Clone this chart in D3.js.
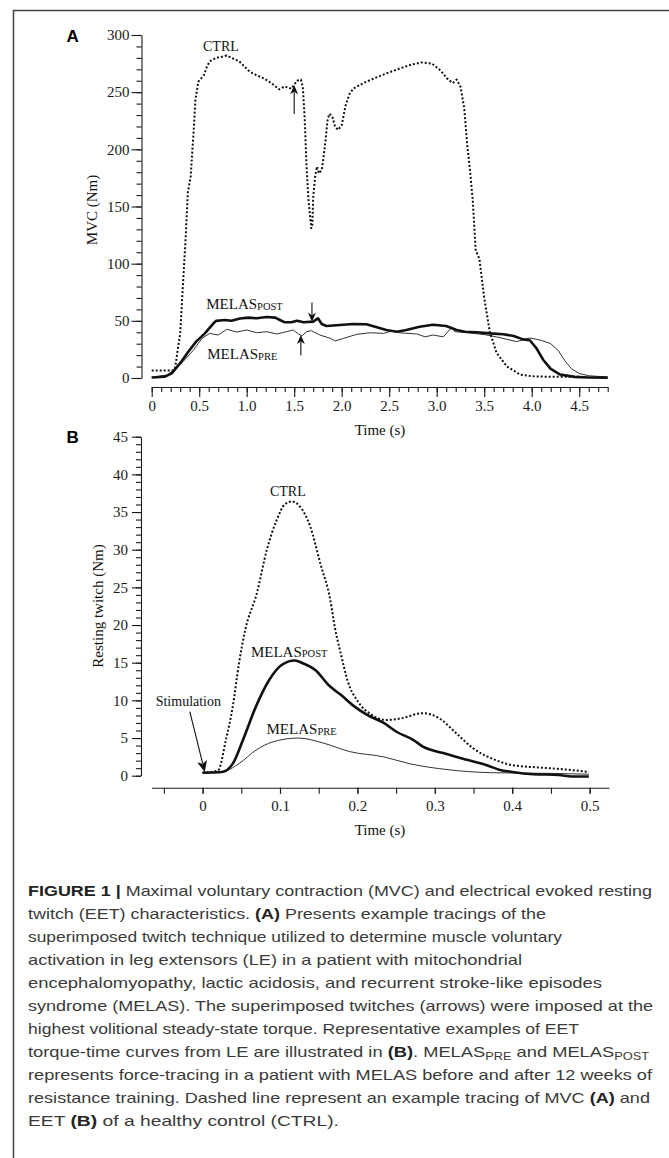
<!DOCTYPE html>
<html>
<head>
<meta charset="utf-8">
<script src="https://cdn.jsdelivr.net/npm/d3@7"></script>
<style>
  body { margin: 0; background: #fff }
  svg { display: block }
  .axis text { font-family: 'Liberation Serif', serif; font-size: 15px; fill: #1a1a1a }
  .axis path, .axis line { stroke: #1a1a1a; stroke-width: 1.1 }
  .lbl { font-family: 'Liberation Serif', serif; fill: #111 }
  .cap { font-family: 'Liberation Sans', sans-serif; font-size: 15px; fill: #3a3a3a }
</style>
</head>
<body>
<script>
// Panel A: MVC torque traces, [time (s), torque (Nm)]
var ctrlMvc = [[0, 6.5], [0.22, 6.5], [0.245, 8], [0.28, 28], [0.30, 39], [0.33, 83], [0.36, 127],
  [0.38, 162], [0.41, 176], [0.44, 214], [0.46, 243], [0.49, 259], [0.52, 262], [0.55, 265],
  [0.58, 272], [0.61, 277], [0.68, 280], [0.74, 281], [0.79, 282], [0.84, 280], [0.92, 277],
  [1.03, 268], [1.10, 265], [1.18, 262], [1.26, 258], [1.34, 252.5], [1.40, 255], [1.47, 253],
  [1.53, 260], [1.57, 261], [1.59, 255], [1.61, 228], [1.63, 185], [1.65, 156], [1.68, 131],
  [1.69, 132], [1.70, 158], [1.72, 176], [1.74, 185], [1.76, 179], [1.79, 182], [1.81, 194],
  [1.83, 208], [1.85, 225], [1.87, 231], [1.90, 229], [1.93, 220], [1.96, 217], [2.0, 221],
  [2.04, 238], [2.08, 248], [2.12, 253], [2.23, 258], [2.34, 262], [2.49, 267], [2.62, 271],
  [2.73, 274], [2.84, 276], [2.95, 275], [3.04, 269], [3.12, 261], [3.17, 258], [3.21, 261],
  [3.25, 255], [3.29, 236], [3.32, 205], [3.35, 182], [3.38, 155], [3.41, 112], [3.45, 104],
  [3.50, 70], [3.56, 40], [3.63, 22], [3.74, 10], [3.88, 3], [4.0, 1.5], [4.2, 1], [4.5, 1]]
var melasPostMvc = [[0, 0.5], [0.14, 1.2], [0.21, 4], [0.30, 13], [0.385, 23], [0.47, 32], [0.56, 39],
  [0.65, 47.8], [0.68, 50], [0.77, 50.7], [0.84, 50], [0.93, 52], [1.02, 52.8], [1.105, 52.2],
  [1.21, 53.3], [1.30, 52.8], [1.35, 50.7], [1.40, 48.7], [1.47, 48.7], [1.53, 50], [1.60, 48.7],
  [1.70, 49.3], [1.75, 52.2], [1.79, 47.2], [1.84, 45.5], [1.98, 46.4], [2.12, 47.2], [2.26, 47],
  [2.37, 44.3], [2.47, 42], [2.58, 40.5], [2.68, 42], [2.82, 44.9], [2.96, 46.6], [3.10, 45.5],
  [3.21, 42], [3.30, 40.5], [3.42, 40], [3.56, 39], [3.70, 38.3], [3.81, 36.7], [3.91, 33.8],
  [3.98, 33], [4.05, 26], [4.12, 16], [4.2, 8], [4.3, 3], [4.45, 1], [4.6, 0.5], [4.8, 0.3]]
var melasPreMvc = [[0, 0.5], [0.16, 2.6], [0.245, 7.6], [0.33, 14.3], [0.44, 24.5], [0.53, 34.7],
  [0.61, 39], [0.70, 37.6], [0.79, 42.6], [0.895, 40.2], [1.0, 42], [1.105, 39.6], [1.21, 40.5],
  [1.315, 38.5], [1.42, 40.5], [1.49, 42], [1.545, 38.5], [1.58, 36.7], [1.63, 40.5], [1.68, 41.4],
  [1.77, 37.6], [1.88, 34.7], [1.93, 32.4], [2.02, 34.7], [2.16, 38.2], [2.30, 39.6], [2.44, 39],
  [2.54, 41.4], [2.61, 39.5], [2.79, 38.5], [2.88, 36], [2.96, 37.6], [3.07, 36], [3.16, 44.3],
  [3.19, 40.5], [3.32, 39.6], [3.50, 38], [3.63, 36], [3.74, 33.8], [3.84, 31.8], [3.93, 33.8],
  [3.98, 35], [4.1, 33], [4.2, 30], [4.28, 24], [4.35, 15], [4.42, 8], [4.5, 4], [4.6, 2], [4.8, 0.8]]

// Panel B: resting twitch traces, [time (s), torque (Nm)]
var ctrlTwitch = [[0, 0.4], [0.02, 0.7], [0.030, 4.7], [0.039, 9.2], [0.047, 14.9], [0.055, 19.3],
  [0.070, 24.2], [0.083, 30], [0.096, 34], [0.106, 36], [0.115, 36.4], [0.126, 35.7], [0.139, 33.1],
  [0.152, 28.2], [0.165, 23.3], [0.171, 19.6], [0.179, 16.0], [0.187, 12.7], [0.201, 9.8],
  [0.218, 8.1], [0.237, 7.4], [0.256, 7.6], [0.284, 8.3], [0.306, 7.6], [0.328, 5.6], [0.35, 3.6],
  [0.378, 2.1], [0.40, 1.4], [0.433, 1.1], [0.466, 0.85], [0.499, 0.5]]
var melasPostTwitch = [[0, 0.4], [0.025, 0.5], [0.039, 1.6], [0.052, 4.7], [0.069, 9.2], [0.086, 12.7],
  [0.102, 14.7], [0.119, 15.3], [0.13, 14.9], [0.146, 14.0], [0.163, 12.0], [0.179, 10.7],
  [0.196, 9.2], [0.212, 8.1], [0.234, 7.0], [0.251, 5.8], [0.273, 4.7], [0.284, 3.9], [0.311, 3.0],
  [0.334, 2.3], [0.367, 1.4], [0.383, 0.8], [0.40, 0.5], [0.427, 0.2], [0.46, 0.1], [0.477, -0.1],
  [0.499, -0.1]]
var melasPreTwitch = [[0, 0.4], [0.025, 0.5], [0.047, 1.6], [0.069, 3.4], [0.091, 4.5], [0.124, 5.0],
  [0.157, 4.3], [0.19, 3.2], [0.234, 2.5], [0.267, 1.6], [0.317, 0.8], [0.372, 0.4], [0.455, 0.3],
  [0.499, 0.2]]

// tick labels
var mvcTicks = [0, 50, 100, 150, 200, 250, 300]
  , timeTicksA = [0, 0.5, 1.0, 1.5, 2.0, 2.5, 3.0, 3.5, 4.0, 4.5]
  , twitchTicks = [0, 5, 10, 15, 20, 25, 30, 35, 40, 45]
  , timeTicksB = [0, 0.1, 0.2, 0.3, 0.4, 0.5]

// superimposed twitch arrows (time, tail, tip) and text labels, in data units
var arrowsA = [[1.5, 231, 256], [1.687, 66, 49.2], [1.57, 20, 37.6]]
  , arrowsB = [[-0.0165, 8.5, 0.0028, 0.5]]
  , labelsA = [['CTRL', '', 0.54, 286], ['MELAS', 'POST', 0.574, 60], ['MELAS', 'PRE', 0.585, 16.4]]
  , labelsB = [['CTRL', '', 0.087, 37.1], ['MELAS', 'POST', 0.0624, 15.8], ['MELAS', 'PRE', 0.0826, 5.5],
      ['Stimulation', '', -0.0606, 9.26]]

// caption, one entry per printed line: [text, 'b' bold | 's' subscript | '' plain]
var captionLines = [
  [['FIGURE 1 | ', 'b'], ['Maximal voluntary contraction (MVC) and electrical evoked resting', '']],
  [['twitch (EET) characteristics. ', ''], ['(A)', 'b'], [' Presents example tracings of the', '']],
  [['superimposed twitch technique utilized to determine muscle voluntary', '']],
  [['activation in leg extensors (LE) in a patient with mitochondrial', '']],
  [['encephalomyopathy, lactic acidosis, and recurrent stroke-like episodes', '']],
  [['syndrome (MELAS). The superimposed twitches (arrows) were imposed at the', '']],
  [['highest volitional steady-state torque. Representative examples of EET', '']],
  [['torque-time curves from LE are illustrated in ', ''], ['(B)', 'b'], ['. MELAS', ''], ['PRE', 's'],
    [' and MELAS', ''], ['POST', 's']],
  [['represents force-tracing in a patient with MELAS before and after 12 weeks of', '']],
  [['resistance training. Dashed line represent an example tracing of MVC ', ''], ['(A)', 'b'], [' and', '']],
  [['EET ', ''], ['(B)', 'b'], [' of a healthy control (CTRL).', '']]
]
var captionEnds = [652, 546, 562, 522, 602, 653, 579, 649, 652, 650, 339]

var svg = d3.select('body').append('svg').attr('width', 669).attr('height', 1158)

svg.append('rect').attr('width', 669).attr('height', 1158).attr('fill', '#fff')

// figure frame (top + left rule)
svg.append('path').attr('d', 'M669,10.5H13.5V1158').attr('fill', 'none')
  .attr('stroke', '#444').attr('stroke-width', 1.5)

var xA = d3.scaleLinear().domain([0, 4.8]).range([151.7, 607.7])
  , yA = d3.scaleLinear().domain([0, 300]).range([378, 35])
  , xB = d3.scaleLinear().domain([-0.066, 0.525]).range([151.5, 609])
  , yB = d3.scaleLinear().domain([0, 45]).range([775.7, 436.7])

var drawAxes = function(x, y, xTicks, xMinor, xMajorLen, xMinorLen, yTicks, yMinor, yMajorLen, yMinorLen, xAxisY, yAxisX, yPad, xFmt) {
  var g = svg.append('g').attr('class', 'axis')
  g.append('g').attr('transform', 'translate(' + yAxisX + ',0)')
    .call(d3.axisLeft(y).tickValues(yMinor).tickSize(yMinorLen).tickSizeOuter(0).tickFormat(''))
  g.append('g').attr('transform', 'translate(' + yAxisX + ',0)')
    .call(d3.axisLeft(y).tickValues(yTicks).tickSize(yMajorLen).tickSizeOuter(0).tickPadding(yPad))
    .call(function(s) { s.select('.domain').remove() })
  g.append('g').attr('transform', 'translate(0,' + xAxisY + ')')
    .call(d3.axisBottom(x).tickValues(xMinor).tickSize(xMinorLen).tickSizeOuter(0).tickFormat(''))
  g.append('g').attr('transform', 'translate(0,' + xAxisY + ')')
    .call(d3.axisBottom(x).tickValues(xTicks).tickSize(xMajorLen).tickSizeOuter(0).tickPadding(13 - xMajorLen).tickFormat(xFmt))
    .call(function(s) { s.select('.domain').remove() })
  return g
}

var fmt = function(d) { return d === 0 ? '0' : d3.format('.1f')(d) }

drawAxes(xA, yA, timeTicksA, d3.range(0, 48.5, 1).map(function(d) { return d / 10 }), 10, 5,
  mvcTicks, d3.range(0, 301, 10), 10, 5, 387, 141.5, 2, fmt)

drawAxes(xB, yB, timeTicksB, d3.range(-1, 10.5, 1).map(function(d) { return d * 0.05 }), 6, 6,
  twitchTicks, d3.range(0, 46, 1), 9, 5, 787.7, 141, 4, fmt)

// axis titles and panel letters
var titles = [['Time (s)', 380, 435, 0], ['Time (s)', 380, 835, 0],
  ['MVC (Nm)', 91.5, 210, -90], ['Resting twitch (Nm)', 98.3, 606, -90]]
svg.selectAll('.ttl').data(titles).enter().append('text')
  .attr('class', 'lbl').attr('font-size', 15).attr('text-anchor', 'middle')
  .attr('dominant-baseline', function(d) { return d[3] ? 'central' : null })
  .attr('transform', function(d) { return 'translate(' + d[1] + ',' + d[2] + ') rotate(' + d[3] + ')' })
  .text(function(d) { return d[0] })

svg.selectAll('.panel').data([['A', 42], ['B', 443]]).enter().append('text')
  .attr('x', 66.5).attr('y', function(d) { return d[1] })
  .attr('font-family', 'Liberation Sans, sans-serif').attr('font-weight', 'bold').attr('font-size', 17)
  .text(function(d) { return d[0] })

// traces
var drawTrace = function(x, y, data, width, dash, color, curve) {
  var line = d3.line()
    .x(function(d) { return x(d[0]) })
    .y(function(d) { return y(d[1]) })
    .curve(curve)
  svg.append('path').datum(data).attr('d', line)
    .attr('fill', 'none').attr('stroke', color).attr('stroke-width', width)
    .attr('stroke-dasharray', dash).attr('stroke-linejoin', 'round')
}

drawTrace(xA, yA, melasPreMvc, 1, null, '#333', d3.curveLinear)
drawTrace(xA, yA, melasPostMvc, 2.6, null, '#111', d3.curveLinear)
drawTrace(xA, yA, ctrlMvc, 2, '2,2', '#111', d3.curveLinear)

drawTrace(xB, yB, melasPreTwitch, 1, null, '#333', d3.curveMonotoneX)
drawTrace(xB, yB, melasPostTwitch, 2.6, null, '#111', d3.curveMonotoneX)
drawTrace(xB, yB, ctrlTwitch, 2, '2,2', '#111', d3.curveMonotoneX)

// arrows: shaft plus filled head at the tip
var arrow = function(x1, y1, x2, y2, len, half) {
  var dx = x2 - x1, dy = y2 - y1, l = Math.sqrt(dx * dx + dy * dy)
    , ux = dx / l, uy = dy / l
    , bx = x2 - ux * len, by = y2 - uy * len
  svg.append('line').attr('x1', x1).attr('y1', y1).attr('x2', bx + ux * 2).attr('y2', by + uy * 2)
    .attr('stroke', '#111').attr('stroke-width', 1.1)
  svg.append('path')
    .attr('d', 'M' + x2 + ',' + y2 + 'L' + (bx - uy * half) + ',' + (by + ux * half) +
      'L' + (bx + ux * 2.5) + ',' + (by + uy * 2.5) + 'L' + (bx + uy * half) + ',' + (by - ux * half) + 'Z')
    .attr('fill', '#111')
}

arrowsA.forEach(function(a) { arrow(xA(a[0]), yA(a[1]), xA(a[0]), yA(a[2]), 9, 4) })
arrowsB.forEach(function(a) { arrow(xB(a[0]), yB(a[1]), xB(a[2]), yB(a[3]), 11, 5) })

// series labels with small-cap subscripts
var drawLabels = function(x, y, labels) {
  labels.forEach(function(d) {
    var t = svg.append('text').attr('class', 'lbl')
      .attr('x', x(d[2])).attr('y', y(d[3]))
      .attr('font-size', d[0] === 'MELAS' ? 15 : 14)
    t.append('tspan').text(d[0])
    if (d[1]) t.append('tspan').attr('font-size', 10.5).attr('dy', 0.5).text(d[1])
  })
}
drawLabels(xA, yA, labelsA)
drawLabels(xB, yB, labelsB)

// caption
captionLines.forEach(function(line, i) {
  var t = svg.append('text').attr('class', 'cap')
    .attr('x', 28).attr('y', 896 + i * 23)
    .attr('textLength', captionEnds[i] - 28).attr('lengthAdjust', 'spacingAndGlyphs')
  var lowered = false
  line.forEach(function(seg) {
    var s = t.append('tspan').text(seg[0])
    if (seg[1] === 'b') s.attr('font-weight', 'bold').attr('fill', '#222')
    if (seg[1] === 's') { s.attr('font-size', 10.5).attr('dy', 3); lowered = true }
    else if (lowered) { s.attr('dy', -3); lowered = false }
  })
})
</script>
</body>
</html>
